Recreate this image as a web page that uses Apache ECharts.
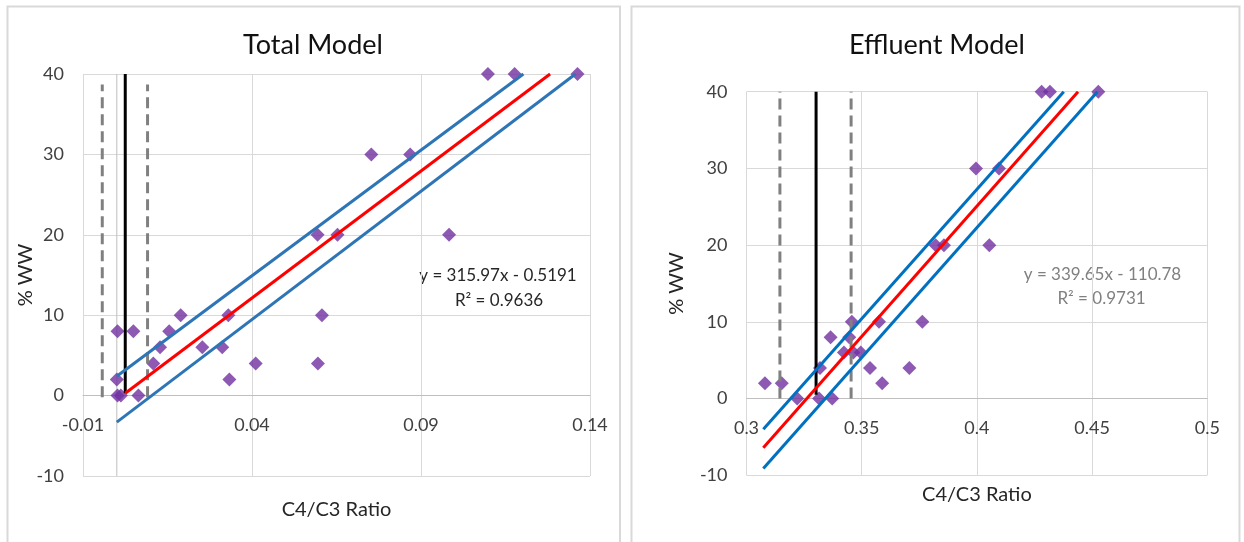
<!DOCTYPE html>
<html>
<head>
<meta charset="utf-8">
<script src="https://cdn.jsdelivr.net/npm/echarts@6/dist/echarts.min.js"></script>
<style>
html,body{margin:0;padding:0;background:#fff;}
#chart{width:1244px;height:542px;}
</style>
</head>
<body>
<div id="chart"></div>
<script>
// ---- Total Model data ----
const totalX = [0.1098,0.1177,0.1363,0.0753,0.0868,0.0594,0.0653,0.0983,0.0189,0.0330,0.0607,0.0002,0.0049,0.0155,0.0128,0.0253,0.0312,0.0108,0.0411,0.0595,0.0000,0.0333,0.0064,0.0002,0.0012];
const totalY = [40,40,40,30,30,20,20,20,10,10,10,8,8,8,6,6,6,4,4,4,2,2,0,0,0];
const totalFit = [[0.0025,0.3],[0.1282,40]];
const totalUpper = [[0,2.4],[0.1203,40]];
const totalLower = [[0,-3.3],[0.1357,40]];
const totalLimit = [[0.0025,0.3],[0.0025,40]];
const totalLimitLo = [[-0.0043,-0.2],[-0.0043,38.7]];
const totalLimitHi = [[0.0091,-0.2],[0.0091,38.7]];
const totalXTicks = [-0.01,0.04,0.09,0.14];
const totalEq = ['y = 315.97x - 0.5191','R\u00B2 = 0.9636'];

// ---- Effluent Model data ----
const effluentX = [0.4281,0.4317,0.4527,0.3996,0.4096,0.3821,0.3857,0.4054,0.3457,0.3575,0.3763,0.3365,0.3446,0.3423,0.3464,0.3496,0.3319,0.3536,0.3707,0.3080,0.3153,0.3589,0.3220,0.3315,0.3372];
const effluentY = [40,40,40,30,30,20,20,20,10,10,10,8,8,6,6,6,4,4,4,2,2,2,0,0,0];
const effFit = [[0.3073,-6.4],[0.4439,40]];
const effUpper = [[0.3073,-4.0],[0.4377,40]];
const effLower = [[0.3073,-9.1],[0.4523,40]];
const effLimit = [[0.3302,0.5],[0.3302,40]];
const effLimitLo = [[0.3145,0],[0.3145,40]];
const effLimitHi = [[0.3454,0],[0.3454,40]];
const effXTicks = [0.3,0.35,0.4,0.45,0.5];
const effEq = ['y = 339.65x - 110.78','R\u00B2 = 0.9731'];

const yMin = -10, yMax = 40, yStep = 10;

const FONT = 'Lato';
const pts = (xs, ys) => xs.map((x, i) => [x, ys[i]]);

const grids = [
  {left: 83, top: 74, width: 507, height: 402, outerBoundsMode: 'none', containLabel: false},
  {left: 746.5, top: 91.7, width: 460.8, height: 383.6, outerBoundsMode: 'none', containLabel: false}
];
// the horizontal axis sits on y = 0 (Excel style): shift it up from the grid bottom
const zeroOffset = g => -g.height * (0 - yMin) / (yMax - yMin);

function xAxisDef(gridIndex, ticks, min, max, nameGap) {
  return {
    type: 'value', gridIndex, min, max, position: 'bottom',
    offset: zeroOffset(grids[gridIndex]),
    name: 'C4/C3 Ratio', nameLocation: 'middle', nameGap, nameMoveOverlap: false,
    nameTextStyle: {fontFamily: FONT, fontSize: 20, color: '#262626'},
    axisLine: {show: true, onZero: false, lineStyle: {color: '#bfbfbf', width: 1}},
    axisTick: {show: false, customValues: ticks},
    axisLabel: {customValues: ticks, margin: 21, fontFamily: FONT, fontSize: 18, color: '#404040',
      formatter: v => String(+(+v).toFixed(2))},
    splitLine: {show: true, lineStyle: {color: '#d9d9d9', width: 1}}
  };
}
function yAxisDef(gridIndex, nameGap) {
  return {
    type: 'value', gridIndex, min: yMin, max: yMax, interval: yStep,
    name: '% WW', nameLocation: 'middle', nameGap, nameRotate: 90, nameMoveOverlap: false,
    nameTextStyle: {fontFamily: FONT, fontSize: 20, color: '#262626'},
    axisLine: {show: false, onZero: false},
    axisTick: {show: false},
    axisLabel: {margin: 19, fontFamily: FONT, fontSize: 18, color: '#404040'},
    splitLine: {show: true, lineStyle: {color: '#d9d9d9', width: 1}}
  };
}
function lineS(idx, data, color, width, type, z) {
  return {type: 'line', xAxisIndex: idx, yAxisIndex: idx, data, symbol: 'none', silent: true,
    lineStyle: {color, width, type: type || 'solid'}, z: z || 3, animation: false};
}
function textG(x, y, text, size, color) {
  return {type: 'text', x, y, silent: true,
    style: {text, font: size + 'px ' + FONT, fill: color, textAlign: 'center', textVerticalAlign: 'middle', align: 'center', verticalAlign: 'middle'}};
}

const option = {
  backgroundColor: '#fff',
  animation: false,
  grid: grids,
  xAxis: [
    xAxisDef(0, totalXTicks, -0.01, 0.14, 104),
    xAxisDef(1, effXTicks, 0.3, 0.5, 86)
  ],
  yAxis: [yAxisDef(0, 47), yAxisDef(1, 60)],
  series: [
    lineS(0, [[0,-10],[0,40]], '#bfbfbf', 1, 'solid', 1),
    {type: 'scatter', xAxisIndex: 0, yAxisIndex: 0, data: pts(totalX, totalY), symbol: 'diamond', symbolSize: 14,
      itemStyle: {color: '#7030a0'}, z: 2},
    lineS(0, totalLimitLo, '#808080', 3, [11, 6]),
    lineS(0, totalLimitHi, '#808080', 3, [11, 6]),
    lineS(0, totalLimit, '#000000', 3),
    lineS(0, totalUpper, '#2e75b6', 3),
    lineS(0, totalLower, '#2e75b6', 3),
    lineS(0, totalFit, '#ff0000', 3),
    {type: 'scatter', xAxisIndex: 1, yAxisIndex: 1, data: pts(effluentX, effluentY), symbol: 'diamond', symbolSize: 14,
      itemStyle: {color: '#7030a0'}, z: 2},
    lineS(1, effLimitLo, '#808080', 3, [11, 6]),
    lineS(1, effLimitHi, '#808080', 3, [11, 6]),
    lineS(1, effLimit, '#000000', 3),
    lineS(1, effUpper, '#0070c0', 3),
    lineS(1, effLower, '#0070c0', 3),
    lineS(1, effFit, '#ff0000', 3)
  ],
  graphic: [
    {type: 'rect', shape: {x: 7.5, y: 6.5, width: 612.5, height: 600}, style: {fill: 'none', stroke: '#d9d9d9', lineWidth: 2}, silent: true},
    {type: 'rect', shape: {x: 631.5, y: 6.5, width: 608, height: 600}, style: {fill: 'none', stroke: '#d9d9d9', lineWidth: 2}, silent: true},
    textG(313, 45, 'Total Model', 27, '#111111'),
    textG(937, 45, 'Effluent Model', 27, '#111111'),
    textG(498, 275.5, totalEq[0], 17, '#262626'),
    textG(499, 300.5, totalEq[1], 17, '#262626'),
    textG(1102.5, 275, effEq[0], 17, '#808080'),
    textG(1101.5, 299, effEq[1], 17, '#808080')
  ]
};

const chart = echarts.init(document.getElementById('chart'), null, {renderer: 'canvas'});
chart.setOption(option);
</script>
</body>
</html>
